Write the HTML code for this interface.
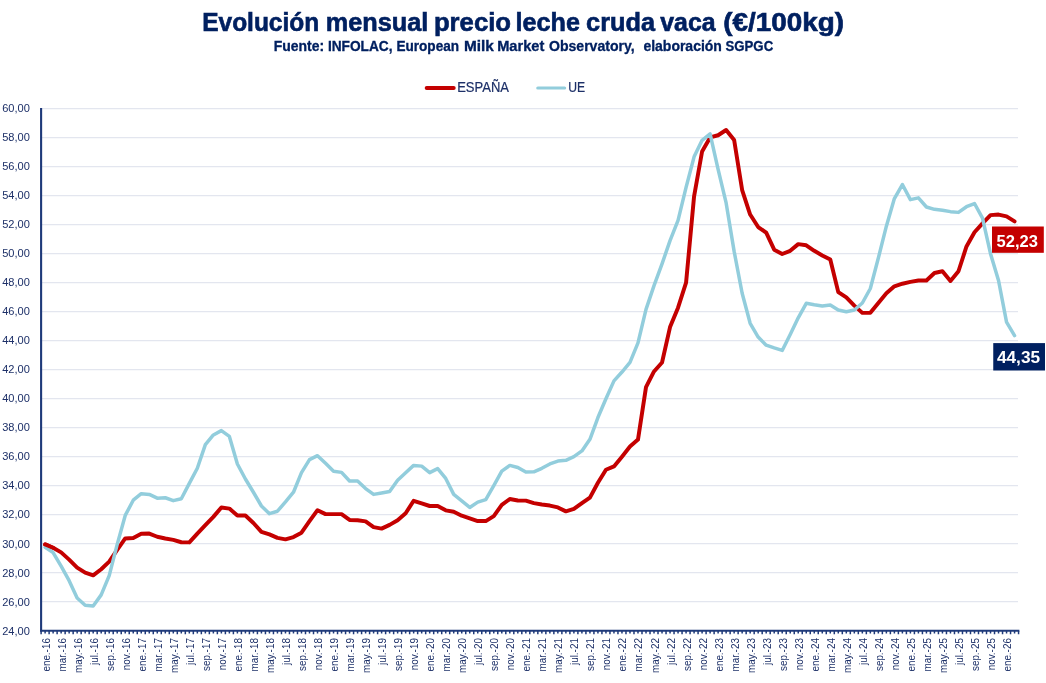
<!DOCTYPE html>
<html lang="es"><head><meta charset="utf-8"><title>Evolución mensual precio leche cruda vaca</title>
<style>
html,body{margin:0;padding:0;background:#fff;}
body{width:1046px;height:683px;overflow:hidden;}
#chart{width:1046px;height:683px;will-change:transform;}
svg{display:block;font-family:"Liberation Sans", sans-serif;}
.yl{font-size:11.8px;fill:#1d3068;text-anchor:end;}
.xl{font-size:11.3px;fill:#1d3068;text-anchor:end;}
</style></head><body>
<div id="chart">
<svg width="1046" height="683" viewBox="0 0 1046 683">
<rect width="1046" height="683" fill="#fff"/>
<text y="30.9" font-size="25" font-weight="700" fill="#002060" stroke="#002060" stroke-width="0.6"><tspan x="202.21" textLength="116.98" lengthAdjust="spacingAndGlyphs">Evolución</tspan> <tspan x="325.69" textLength="102.61" lengthAdjust="spacingAndGlyphs">mensual</tspan> <tspan x="433.90" textLength="77.19" lengthAdjust="spacingAndGlyphs">precio</tspan> <tspan x="515.60" textLength="64.29" lengthAdjust="spacingAndGlyphs">leche</tspan> <tspan x="586.10" textLength="68.89" lengthAdjust="spacingAndGlyphs">cruda</tspan> <tspan x="660.30" textLength="55.31" lengthAdjust="spacingAndGlyphs">vaca</tspan> <tspan x="723.30" textLength="120.79" lengthAdjust="spacingAndGlyphs">(€/100kg)</tspan></text>
<text y="51.25" font-size="14.1" font-weight="700" fill="#002060" stroke="#002060" stroke-width="0.3"><tspan x="273.81" textLength="50.37" lengthAdjust="spacingAndGlyphs">Fuente:</tspan> <tspan x="327.90" textLength="64.68" lengthAdjust="spacingAndGlyphs">INFOLAC,</tspan> <tspan x="396.41" textLength="62.68" lengthAdjust="spacingAndGlyphs">European</tspan> <tspan x="463.97" textLength="29.90" lengthAdjust="spacingAndGlyphs">Milk</tspan> <tspan x="497.18" textLength="47.14" lengthAdjust="spacingAndGlyphs">Market</tspan> <tspan x="549.01" textLength="85.67" lengthAdjust="spacingAndGlyphs">Observatory,</tspan> <tspan x="643.41" textLength="78.48" lengthAdjust="spacingAndGlyphs">elaboración</tspan> <tspan x="725.51" textLength="47.67" lengthAdjust="spacingAndGlyphs">SGPGC</tspan></text>
<line x1="426.7" y1="88.0" x2="453.7" y2="88.0" stroke="#c40000" stroke-width="4" stroke-linecap="round"/>
<text x="457.2" y="91.8" font-size="14.2" fill="#1d3068" stroke="#1d3068" stroke-width="0.2" textLength="51.8" lengthAdjust="spacingAndGlyphs">ESPAÑA</text>
<line x1="537.8" y1="88.0" x2="564.6" y2="88.0" stroke="#92cddc" stroke-width="3.2" stroke-linecap="round"/>
<text x="568.3" y="91.8" font-size="14.2" fill="#1d3068" stroke="#1d3068" stroke-width="0.2" textLength="16.9" lengthAdjust="spacingAndGlyphs">UE</text>
<g stroke="#e3e6ef" stroke-width="1.3">
<line x1="42" y1="601.70" x2="1018" y2="601.70"/><line x1="42" y1="572.70" x2="1018" y2="572.70"/><line x1="42" y1="543.70" x2="1018" y2="543.70"/><line x1="42" y1="514.70" x2="1018" y2="514.70"/><line x1="42" y1="485.70" x2="1018" y2="485.70"/><line x1="42" y1="456.70" x2="1018" y2="456.70"/><line x1="42" y1="427.70" x2="1018" y2="427.70"/><line x1="42" y1="398.70" x2="1018" y2="398.70"/><line x1="42" y1="369.70" x2="1018" y2="369.70"/><line x1="42" y1="340.70" x2="1018" y2="340.70"/><line x1="42" y1="311.70" x2="1018" y2="311.70"/><line x1="42" y1="282.70" x2="1018" y2="282.70"/><line x1="42" y1="253.70" x2="1018" y2="253.70"/><line x1="42" y1="224.70" x2="1018" y2="224.70"/><line x1="42" y1="195.70" x2="1018" y2="195.70"/><line x1="42" y1="166.70" x2="1018" y2="166.70"/><line x1="42" y1="137.70" x2="1018" y2="137.70"/><line x1="42" y1="108.70" x2="1018" y2="108.70"/></g>
<text class="yl" x="29.85" y="634.60" textLength="27.7" lengthAdjust="spacingAndGlyphs">24,00</text><text class="yl" x="29.85" y="605.57" textLength="27.7" lengthAdjust="spacingAndGlyphs">26,00</text><text class="yl" x="29.85" y="576.54" textLength="27.7" lengthAdjust="spacingAndGlyphs">28,00</text><text class="yl" x="29.85" y="547.52" textLength="27.7" lengthAdjust="spacingAndGlyphs">30,00</text><text class="yl" x="29.85" y="518.49" textLength="27.7" lengthAdjust="spacingAndGlyphs">32,00</text><text class="yl" x="29.85" y="489.46" textLength="27.7" lengthAdjust="spacingAndGlyphs">34,00</text><text class="yl" x="29.85" y="460.43" textLength="27.7" lengthAdjust="spacingAndGlyphs">36,00</text><text class="yl" x="29.85" y="431.41" textLength="27.7" lengthAdjust="spacingAndGlyphs">38,00</text><text class="yl" x="29.85" y="402.38" textLength="27.7" lengthAdjust="spacingAndGlyphs">40,00</text><text class="yl" x="29.85" y="373.35" textLength="27.7" lengthAdjust="spacingAndGlyphs">42,00</text><text class="yl" x="29.85" y="344.32" textLength="27.7" lengthAdjust="spacingAndGlyphs">44,00</text><text class="yl" x="29.85" y="315.29" textLength="27.7" lengthAdjust="spacingAndGlyphs">46,00</text><text class="yl" x="29.85" y="286.27" textLength="27.7" lengthAdjust="spacingAndGlyphs">48,00</text><text class="yl" x="29.85" y="257.24" textLength="27.7" lengthAdjust="spacingAndGlyphs">50,00</text><text class="yl" x="29.85" y="228.21" textLength="27.7" lengthAdjust="spacingAndGlyphs">52,00</text><text class="yl" x="29.85" y="199.18" textLength="27.7" lengthAdjust="spacingAndGlyphs">54,00</text><text class="yl" x="29.85" y="170.16" textLength="27.7" lengthAdjust="spacingAndGlyphs">56,00</text><text class="yl" x="29.85" y="141.13" textLength="27.7" lengthAdjust="spacingAndGlyphs">58,00</text><text class="yl" x="29.85" y="112.10" textLength="27.7" lengthAdjust="spacingAndGlyphs">60,00</text>
<line x1="41.1" y1="108.1" x2="41.1" y2="631.6" stroke="#1f3a7a" stroke-width="2.1"/>
<line x1="40.2" y1="630.7" x2="1019.4" y2="630.7" stroke="#1f3a7a" stroke-width="1.9"/>
<path d="M41.10,631V634.2M49.11,631V634.2M57.12,631V634.2M65.14,631V634.2M73.15,631V634.2M81.16,631V634.2M89.17,631V634.2M97.18,631V634.2M105.20,631V634.2M113.21,631V634.2M121.22,631V634.2M129.23,631V634.2M137.24,631V634.2M145.26,631V634.2M153.27,631V634.2M161.28,631V634.2M169.29,631V634.2M177.30,631V634.2M185.32,631V634.2M193.33,631V634.2M201.34,631V634.2M209.35,631V634.2M217.36,631V634.2M225.38,631V634.2M233.39,631V634.2M241.40,631V634.2M249.41,631V634.2M257.42,631V634.2M265.44,631V634.2M273.45,631V634.2M281.46,631V634.2M289.47,631V634.2M297.48,631V634.2M305.50,631V634.2M313.51,631V634.2M321.52,631V634.2M329.53,631V634.2M337.54,631V634.2M345.56,631V634.2M353.57,631V634.2M361.58,631V634.2M369.59,631V634.2M377.60,631V634.2M385.62,631V634.2M393.63,631V634.2M401.64,631V634.2M409.65,631V634.2M417.66,631V634.2M425.68,631V634.2M433.69,631V634.2M441.70,631V634.2M449.71,631V634.2M457.72,631V634.2M465.74,631V634.2M473.75,631V634.2M481.76,631V634.2M489.77,631V634.2M497.78,631V634.2M505.80,631V634.2M513.81,631V634.2M521.82,631V634.2M529.83,631V634.2M537.84,631V634.2M545.86,631V634.2M553.87,631V634.2M561.88,631V634.2M569.89,631V634.2M577.90,631V634.2M585.92,631V634.2M593.93,631V634.2M601.94,631V634.2M609.95,631V634.2M617.96,631V634.2M625.98,631V634.2M633.99,631V634.2M642.00,631V634.2M650.01,631V634.2M658.02,631V634.2M666.04,631V634.2M674.05,631V634.2M682.06,631V634.2M690.07,631V634.2M698.08,631V634.2M706.10,631V634.2M714.11,631V634.2M722.12,631V634.2M730.13,631V634.2M738.14,631V634.2M746.16,631V634.2M754.17,631V634.2M762.18,631V634.2M770.19,631V634.2M778.20,631V634.2M786.22,631V634.2M794.23,631V634.2M802.24,631V634.2M810.25,631V634.2M818.26,631V634.2M826.28,631V634.2M834.29,631V634.2M842.30,631V634.2M850.31,631V634.2M858.32,631V634.2M866.34,631V634.2M874.35,631V634.2M882.36,631V634.2M890.37,631V634.2M898.38,631V634.2M906.40,631V634.2M914.41,631V634.2M922.42,631V634.2M930.43,631V634.2M938.44,631V634.2M946.46,631V634.2M954.47,631V634.2M962.48,631V634.2M970.49,631V634.2M978.50,631V634.2M986.52,631V634.2M994.53,631V634.2M1002.54,631V634.2M1010.55,631V634.2M1018.56,631V634.2M45.11,631V633.5M53.12,631V633.5M61.13,631V633.5M69.14,631V633.5M77.15,631V633.5M85.17,631V633.5M93.18,631V633.5M101.19,631V633.5M109.20,631V633.5M117.21,631V633.5M125.23,631V633.5M133.24,631V633.5M141.25,631V633.5M149.26,631V633.5M157.27,631V633.5M165.29,631V633.5M173.30,631V633.5M181.31,631V633.5M189.32,631V633.5M197.33,631V633.5M205.35,631V633.5M213.36,631V633.5M221.37,631V633.5M229.38,631V633.5M237.39,631V633.5M245.41,631V633.5M253.42,631V633.5M261.43,631V633.5M269.44,631V633.5M277.45,631V633.5M285.47,631V633.5M293.48,631V633.5M301.49,631V633.5M309.50,631V633.5M317.51,631V633.5M325.53,631V633.5M333.54,631V633.5M341.55,631V633.5M349.56,631V633.5M357.57,631V633.5M365.59,631V633.5M373.60,631V633.5M381.61,631V633.5M389.62,631V633.5M397.63,631V633.5M405.65,631V633.5M413.66,631V633.5M421.67,631V633.5M429.68,631V633.5M437.69,631V633.5M445.71,631V633.5M453.72,631V633.5M461.73,631V633.5M469.74,631V633.5M477.75,631V633.5M485.77,631V633.5M493.78,631V633.5M501.79,631V633.5M509.80,631V633.5M517.81,631V633.5M525.83,631V633.5M533.84,631V633.5M541.85,631V633.5M549.86,631V633.5M557.87,631V633.5M565.89,631V633.5M573.90,631V633.5M581.91,631V633.5M589.92,631V633.5M597.93,631V633.5M605.95,631V633.5M613.96,631V633.5M621.97,631V633.5M629.98,631V633.5M637.99,631V633.5M646.01,631V633.5M654.02,631V633.5M662.03,631V633.5M670.04,631V633.5M678.05,631V633.5M686.07,631V633.5M694.08,631V633.5M702.09,631V633.5M710.10,631V633.5M718.11,631V633.5M726.13,631V633.5M734.14,631V633.5M742.15,631V633.5M750.16,631V633.5M758.17,631V633.5M766.19,631V633.5M774.20,631V633.5M782.21,631V633.5M790.22,631V633.5M798.23,631V633.5M806.25,631V633.5M814.26,631V633.5M822.27,631V633.5M830.28,631V633.5M838.29,631V633.5M846.31,631V633.5M854.32,631V633.5M862.33,631V633.5M870.34,631V633.5M878.35,631V633.5M886.37,631V633.5M894.38,631V633.5M902.39,631V633.5M910.40,631V633.5M918.41,631V633.5M926.43,631V633.5M934.44,631V633.5M942.45,631V633.5M950.46,631V633.5M958.47,631V633.5M966.49,631V633.5M974.50,631V633.5M982.51,631V633.5M990.52,631V633.5M998.53,631V633.5M1006.55,631V633.5M1014.56,631V633.5" stroke="#1f3a7a" stroke-width="1.5" fill="none"/>
<text class="xl" transform="translate(49.61,638.1) rotate(-90) scale(0.875,1)">ene.-16</text><text class="xl" transform="translate(65.63,638.1) rotate(-90) scale(0.875,1)">mar.-16</text><text class="xl" transform="translate(81.65,638.1) rotate(-90) scale(0.875,1)">may.-16</text><text class="xl" transform="translate(97.68,638.1) rotate(-90) scale(0.875,1)">jul.-16</text><text class="xl" transform="translate(113.70,638.1) rotate(-90) scale(0.875,1)">sep.-16</text><text class="xl" transform="translate(129.73,638.1) rotate(-90) scale(0.875,1)">nov.-16</text><text class="xl" transform="translate(145.75,638.1) rotate(-90) scale(0.875,1)">ene.-17</text><text class="xl" transform="translate(161.77,638.1) rotate(-90) scale(0.875,1)">mar.-17</text><text class="xl" transform="translate(177.80,638.1) rotate(-90) scale(0.875,1)">may.-17</text><text class="xl" transform="translate(193.82,638.1) rotate(-90) scale(0.875,1)">jul.-17</text><text class="xl" transform="translate(209.85,638.1) rotate(-90) scale(0.875,1)">sep.-17</text><text class="xl" transform="translate(225.87,638.1) rotate(-90) scale(0.875,1)">nov.-17</text><text class="xl" transform="translate(241.89,638.1) rotate(-90) scale(0.875,1)">ene.-18</text><text class="xl" transform="translate(257.92,638.1) rotate(-90) scale(0.875,1)">mar.-18</text><text class="xl" transform="translate(273.94,638.1) rotate(-90) scale(0.875,1)">may.-18</text><text class="xl" transform="translate(289.97,638.1) rotate(-90) scale(0.875,1)">jul.-18</text><text class="xl" transform="translate(305.99,638.1) rotate(-90) scale(0.875,1)">sep.-18</text><text class="xl" transform="translate(322.01,638.1) rotate(-90) scale(0.875,1)">nov.-18</text><text class="xl" transform="translate(338.04,638.1) rotate(-90) scale(0.875,1)">ene.-19</text><text class="xl" transform="translate(354.06,638.1) rotate(-90) scale(0.875,1)">mar.-19</text><text class="xl" transform="translate(370.09,638.1) rotate(-90) scale(0.875,1)">may.-19</text><text class="xl" transform="translate(386.11,638.1) rotate(-90) scale(0.875,1)">jul.-19</text><text class="xl" transform="translate(402.13,638.1) rotate(-90) scale(0.875,1)">sep.-19</text><text class="xl" transform="translate(418.16,638.1) rotate(-90) scale(0.875,1)">nov.-19</text><text class="xl" transform="translate(434.18,638.1) rotate(-90) scale(0.875,1)">ene.-20</text><text class="xl" transform="translate(450.21,638.1) rotate(-90) scale(0.875,1)">mar.-20</text><text class="xl" transform="translate(466.23,638.1) rotate(-90) scale(0.875,1)">may.-20</text><text class="xl" transform="translate(482.25,638.1) rotate(-90) scale(0.875,1)">jul.-20</text><text class="xl" transform="translate(498.28,638.1) rotate(-90) scale(0.875,1)">sep.-20</text><text class="xl" transform="translate(514.30,638.1) rotate(-90) scale(0.875,1)">nov.-20</text><text class="xl" transform="translate(530.33,638.1) rotate(-90) scale(0.875,1)">ene.-21</text><text class="xl" transform="translate(546.35,638.1) rotate(-90) scale(0.875,1)">mar.-21</text><text class="xl" transform="translate(562.37,638.1) rotate(-90) scale(0.875,1)">may.-21</text><text class="xl" transform="translate(578.40,638.1) rotate(-90) scale(0.875,1)">jul.-21</text><text class="xl" transform="translate(594.42,638.1) rotate(-90) scale(0.875,1)">sep.-21</text><text class="xl" transform="translate(610.45,638.1) rotate(-90) scale(0.875,1)">nov.-21</text><text class="xl" transform="translate(626.47,638.1) rotate(-90) scale(0.875,1)">ene.-22</text><text class="xl" transform="translate(642.49,638.1) rotate(-90) scale(0.875,1)">mar.-22</text><text class="xl" transform="translate(658.52,638.1) rotate(-90) scale(0.875,1)">may.-22</text><text class="xl" transform="translate(674.54,638.1) rotate(-90) scale(0.875,1)">jul.-22</text><text class="xl" transform="translate(690.57,638.1) rotate(-90) scale(0.875,1)">sep.-22</text><text class="xl" transform="translate(706.59,638.1) rotate(-90) scale(0.875,1)">nov.-22</text><text class="xl" transform="translate(722.61,638.1) rotate(-90) scale(0.875,1)">ene.-23</text><text class="xl" transform="translate(738.64,638.1) rotate(-90) scale(0.875,1)">mar.-23</text><text class="xl" transform="translate(754.66,638.1) rotate(-90) scale(0.875,1)">may.-23</text><text class="xl" transform="translate(770.69,638.1) rotate(-90) scale(0.875,1)">jul.-23</text><text class="xl" transform="translate(786.71,638.1) rotate(-90) scale(0.875,1)">sep.-23</text><text class="xl" transform="translate(802.73,638.1) rotate(-90) scale(0.875,1)">nov.-23</text><text class="xl" transform="translate(818.76,638.1) rotate(-90) scale(0.875,1)">ene.-24</text><text class="xl" transform="translate(834.78,638.1) rotate(-90) scale(0.875,1)">mar.-24</text><text class="xl" transform="translate(850.81,638.1) rotate(-90) scale(0.875,1)">may.-24</text><text class="xl" transform="translate(866.83,638.1) rotate(-90) scale(0.875,1)">jul.-24</text><text class="xl" transform="translate(882.85,638.1) rotate(-90) scale(0.875,1)">sep.-24</text><text class="xl" transform="translate(898.88,638.1) rotate(-90) scale(0.875,1)">nov.-24</text><text class="xl" transform="translate(914.90,638.1) rotate(-90) scale(0.875,1)">ene.-25</text><text class="xl" transform="translate(930.93,638.1) rotate(-90) scale(0.875,1)">mar.-25</text><text class="xl" transform="translate(946.95,638.1) rotate(-90) scale(0.875,1)">may.-25</text><text class="xl" transform="translate(962.97,638.1) rotate(-90) scale(0.875,1)">jul.-25</text><text class="xl" transform="translate(979.00,638.1) rotate(-90) scale(0.875,1)">sep.-25</text><text class="xl" transform="translate(995.02,638.1) rotate(-90) scale(0.875,1)">nov.-25</text><text class="xl" transform="translate(1011.05,638.1) rotate(-90) scale(0.875,1)">ene.-26</text>
<path d="M45.11,544.43 L53.12,547.76 L61.13,552.40 L69.14,559.65 L77.15,567.62 L85.17,572.70 L93.18,575.31 L101.19,569.22 L109.20,561.68 L117.21,549.79 L125.23,538.48 L133.24,538.05 L141.25,533.70 L149.26,533.55 L157.27,536.74 L165.29,538.48 L173.30,539.93 L181.31,542.25 L189.32,542.40 L197.33,533.55 L205.35,525.14 L213.36,516.88 L221.37,507.45 L229.38,508.61 L237.39,515.57 L245.41,515.57 L253.42,522.97 L261.43,531.81 L269.44,534.42 L277.45,537.90 L285.47,539.35 L293.48,537.03 L301.49,532.68 L309.50,521.23 L317.51,510.21 L325.53,514.12 L333.54,514.12 L341.55,514.12 L349.56,519.92 L357.57,520.21 L365.59,521.37 L373.60,527.17 L381.61,528.62 L389.62,524.85 L397.63,520.21 L405.65,513.25 L413.66,500.78 L421.67,503.39 L429.68,506.00 L437.69,506.00 L445.71,510.35 L453.72,511.80 L461.73,515.72 L469.74,518.33 L477.75,521.08 L485.77,521.08 L493.78,516.15 L501.79,504.84 L509.80,499.04 L517.81,500.49 L525.83,500.64 L533.84,503.10 L541.85,504.55 L549.86,505.56 L557.87,507.45 L565.89,511.37 L573.90,508.90 L581.91,503.10 L589.92,497.59 L597.93,482.80 L605.95,469.75 L613.96,466.42 L621.97,456.70 L629.98,446.55 L637.99,439.59 L646.01,387.10 L654.02,371.44 L662.03,362.45 L670.04,327.07 L678.05,307.64 L686.07,282.70 L694.08,196.28 L702.09,151.48 L710.10,137.41 L718.11,135.24 L726.13,130.02 L734.14,140.02 L742.15,190.05 L750.16,214.55 L758.17,227.02 L766.19,232.68 L774.20,249.64 L782.21,253.99 L790.22,250.80 L798.23,244.13 L806.25,245.29 L814.26,250.80 L822.27,255.44 L830.28,259.50 L838.29,292.12 L846.31,297.35 L854.32,305.61 L862.33,312.86 L870.34,312.86 L878.35,303.00 L886.37,293.29 L894.38,286.33 L902.39,283.72 L910.40,281.83 L918.41,280.53 L926.43,280.53 L934.44,272.99 L942.45,271.25 L950.46,280.96 L958.47,271.25 L966.49,246.45 L974.50,232.24 L982.51,223.39 L990.52,215.13 L998.53,214.55 L1006.55,216.44 L1014.56,221.37" fill="none" stroke="#c40000" stroke-width="3.95" stroke-linejoin="round" stroke-linecap="round"/>
<path d="M45.11,547.18 L53.12,552.55 L61.13,566.18 L69.14,580.68 L77.15,597.93 L85.17,605.18 L93.18,606.05 L101.19,594.89 L109.20,575.60 L117.21,544.43 L125.23,515.43 L133.24,500.20 L141.25,493.68 L149.26,494.40 L157.27,498.17 L165.29,497.74 L173.30,500.64 L181.31,498.75 L189.32,483.38 L197.33,468.30 L205.35,444.67 L213.36,434.95 L221.37,430.60 L229.38,436.40 L237.39,463.95 L245.41,479.03 L253.42,492.23 L261.43,506.00 L269.44,513.69 L277.45,511.22 L285.47,501.94 L293.48,492.23 L301.49,472.65 L309.50,459.60 L317.51,455.69 L325.53,463.23 L333.54,471.20 L341.55,472.36 L349.56,481.06 L357.57,480.92 L365.59,488.60 L373.60,494.40 L381.61,492.95 L389.62,491.50 L397.63,480.19 L405.65,472.65 L413.66,465.40 L421.67,466.12 L429.68,472.65 L437.69,468.59 L445.71,478.45 L453.72,494.40 L461.73,500.78 L469.74,507.45 L477.75,502.09 L485.77,499.62 L493.78,485.70 L501.79,471.20 L509.80,465.40 L517.81,467.43 L525.83,472.07 L533.84,471.78 L541.85,468.30 L549.86,463.95 L557.87,461.05 L565.89,460.33 L573.90,456.70 L581.91,450.90 L589.92,439.30 L597.93,417.55 L605.95,398.70 L613.96,380.87 L621.97,372.02 L629.98,362.45 L637.99,342.88 L646.01,309.38 L654.02,285.60 L662.03,263.85 L670.04,240.65 L678.05,220.35 L686.07,187.44 L694.08,156.84 L702.09,140.31 L710.10,133.79 L718.11,169.31 L726.13,202.95 L734.14,251.38 L742.15,293.29 L750.16,323.30 L758.17,337.08 L766.19,345.20 L774.20,347.95 L782.21,350.42 L790.22,334.47 L798.23,317.79 L806.25,303.29 L814.26,304.74 L822.27,305.90 L830.28,305.03 L838.29,309.96 L846.31,311.70 L854.32,309.96 L862.33,303.00 L870.34,288.50 L878.35,258.05 L886.37,226.15 L894.38,198.60 L902.39,184.54 L910.40,199.62 L918.41,197.88 L926.43,207.01 L934.44,209.33 L942.45,210.20 L950.46,211.65 L958.47,212.38 L966.49,206.72 L974.50,203.53 L982.51,218.18 L990.52,253.70 L998.53,280.53 L1006.55,322.14 L1014.56,335.62" fill="none" stroke="#92cddc" stroke-width="3.5" stroke-linejoin="round" stroke-linecap="round"/>
<path d="M45.11,544.43 L53.12,547.76" fill="none" stroke="#c40000" stroke-width="3.95" stroke-linejoin="round" stroke-linecap="round"/>
<rect x="992" y="226.5" width="51.8" height="26.3" fill="#c40000"/>
<text x="996.5" y="246.9" font-size="16.8" font-weight="700" fill="#fff" textLength="41.4" lengthAdjust="spacingAndGlyphs">52,23</text>
<rect x="993.25" y="343.1" width="51.75" height="27.4" fill="#002060"/>
<text x="996.9" y="363.4" font-size="17" font-weight="700" fill="#fff" textLength="43.2" lengthAdjust="spacingAndGlyphs">44,35</text>
</svg>
</div>
</body></html>
